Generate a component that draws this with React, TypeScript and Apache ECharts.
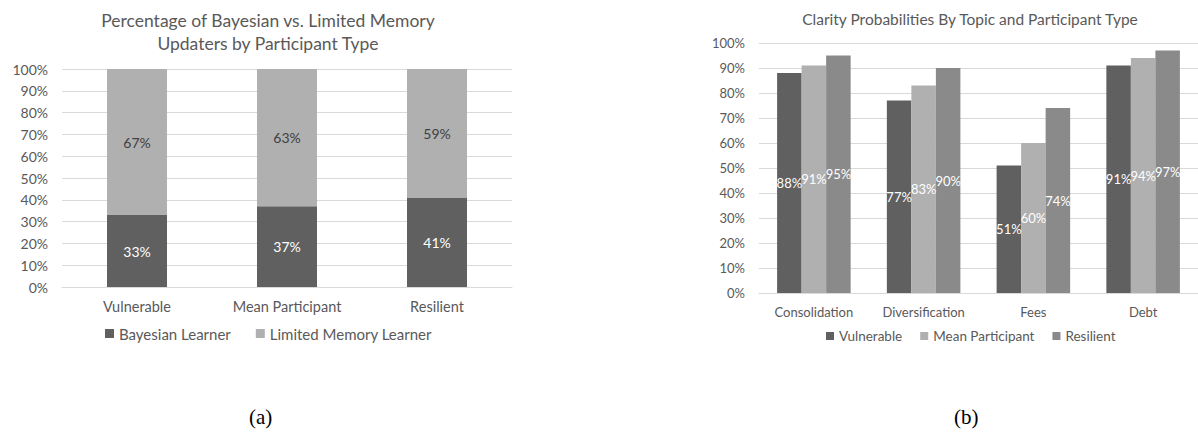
import React, { useEffect, useRef } from "react";
import * as echarts from "echarts";

const typesA = ["Vulnerable", "Mean Participant", "Resilient"];
const bayesian = [33, 37, 41];
const limitedMemory = [67, 63, 59];

const topicsB = ["Consolidation", "Diversification", "Fees", "Debt"];
const vulnerable = [88, 77, 51, 91];
const meanParticipant = [91, 83, 60, 94];
const resilient = [95, 90, 74, 97];

const yTicks = { min: 0, max: 100, interval: 10 };

const FONT = "Lato, 'Open Sans', sans-serif";
const TXT = "#595959";
const DARK = "#606060";
const LIGHT = "#b0b0b0";
const MID = "#8a8a8a";

export default function App() {
  const ref = useRef<HTMLDivElement>(null);
  useEffect(() => {
    if (!ref.current) return;
    const chart = echarts.init(ref.current, undefined, { renderer: "svg" });
    const valAxis = (gridIndex: number, fs: number) => ({
      type: "value",
      gridIndex,
      min: yTicks.min,
      max: yTicks.max,
      interval: yTicks.interval,
      axisLabel: { formatter: "{value}%", color: TXT, fontSize: fs, fontFamily: FONT, margin: 14 },
      axisLine: { show: false },
      axisTick: { show: false },
      splitLine: { lineStyle: { color: "#d9d9d9", width: 1 } },
    });
    const catAxis = (gridIndex: number, data: string[], fs: number) => ({
      type: "category",
      gridIndex,
      data,
      axisLabel: { color: TXT, fontSize: fs, fontFamily: FONT, margin: 12 },
      axisLine: { lineStyle: { color: "#d9d9d9" } },
      axisTick: { show: false },
    });
    chart.setOption({
      animation: false,
      textStyle: { fontFamily: FONT },
      title: [
        {
          text: "Percentage of Bayesian vs. Limited Memory\nUpdaters by Participant Type",
          left: 263,
          textAlign: "center",
          top: 4,
          textStyle: { color: TXT, fontSize: 17.5, fontWeight: "normal", fontFamily: FONT, lineHeight: 23 },
        },
        {
          text: "Clarity Probabilities By Topic and Participant Type",
          left: 965,
          textAlign: "center",
          top: 6,
          textStyle: { color: TXT, fontSize: 15.5, fontWeight: "normal", fontFamily: FONT },
        },
      ],
      legend: [
        {
          data: ["Bayesian Learner", "Limited Memory Learner"],
          left: 100,
          top: 321,
          itemWidth: 9,
          itemHeight: 9,
          itemGap: 25,
          icon: "rect",
          textStyle: { color: TXT, fontSize: 15, fontFamily: FONT },
        },
        {
          data: ["Vulnerable", "Mean Participant", "Resilient"],
          left: 821,
          top: 324,
          itemWidth: 8,
          itemHeight: 8,
          itemGap: 18,
          icon: "rect",
          textStyle: { color: TXT, fontSize: 13.5, fontFamily: FONT },
        },
      ],
      grid: [
        { left: 62, top: 69, width: 450, height: 218 },
        { left: 759, top: 43, width: 454, height: 250 },
      ],
      xAxis: [catAxis(0, typesA, 14.5), catAxis(1, topicsB, 13)],
      yAxis: [valAxis(0, 14), valAxis(1, 13)],
      series: [
        {
          name: "Bayesian Learner",
          type: "bar",
          stack: "a",
          xAxisIndex: 0,
          yAxisIndex: 0,
          barWidth: "40%",
          data: bayesian,
          itemStyle: { color: DARK },
          label: { show: true, position: "inside", formatter: "{c}%", color: "#ffffff", fontSize: 14, fontFamily: FONT },
        },
        {
          name: "Limited Memory Learner",
          type: "bar",
          stack: "a",
          xAxisIndex: 0,
          yAxisIndex: 0,
          barWidth: "40%",
          data: limitedMemory,
          itemStyle: { color: LIGHT },
          label: { show: true, position: "inside", formatter: "{c}%", color: "#404040", fontSize: 14, fontFamily: FONT },
        },
        ...[
          ["Vulnerable", vulnerable, DARK],
          ["Mean Participant", meanParticipant, LIGHT],
          ["Resilient", resilient, MID],
        ].map(([name, data, color]) => ({
          name,
          type: "bar",
          xAxisIndex: 1,
          yAxisIndex: 1,
          barGap: "0%",
          barCategoryGap: "33%",
          data,
          itemStyle: { color },
          label: { show: true, position: "inside", formatter: "{c}%", color: "#ffffff", fontSize: 13, fontFamily: FONT },
        })),
      ],
      graphic: [
        {
          type: "text",
          left: 249,
          top: 406,
          style: { text: "(a)", fontSize: 21, fontFamily: "'Liberation Serif', 'DejaVu Serif', serif", fill: "#000" },
        },
        {
          type: "text",
          left: 954,
          top: 406,
          style: { text: "(b)", fontSize: 21, fontFamily: "'Liberation Serif', 'DejaVu Serif', serif", fill: "#000" },
        },
      ],
    });
    return () => chart.dispose();
  }, []);
  return (
    <div
      ref={ref}
      style={{ position: "absolute", left: 0, top: 0, width: 1198, height: 436, background: "#fff" }}
    />
  );
}
